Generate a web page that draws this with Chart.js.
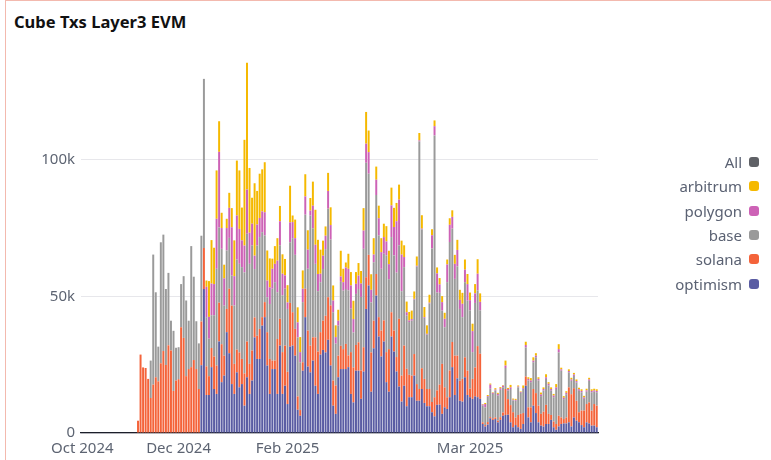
<!DOCTYPE html>
<html>
<head>
<meta charset="utf-8">
<script src="https://cdn.jsdelivr.net/npm/chart.js@4.4.1/dist/chart.umd.min.js"></script>
<style>
  body { margin: 0; background: #fff; font-family: "Noto Sans", sans-serif; }
  #wrap { position: relative; width: 771px; height: 460px; overflow: hidden; }
  #frame { position: absolute; left: 5px; top: 0; width: 800px; height: 500px; border-left: 1px solid #f3b9ae; border-top: 1px solid #f3b9ae; }
  h2 { position: absolute; left: 14px; top: 11px; margin: 0; font-size: 16.5px; line-height: 22px; font-weight: 700; color: #111; }
  canvas { position: absolute; left: 0; top: 0; }
  #legend { position: absolute; right: 12px; top: 150px; }
  .item { display: flex; justify-content: flex-end; align-items: center; height: 24.3px; font-size: 15px; color: #5b6273; }
  .dot { width: 10px; height: 10px; border-radius: 3px; margin-left: 7px; }
</style>
</head>
<body>
<div id="wrap">
  <div id="frame"></div>
  <h2>Cube Txs Layer3 EVM</h2>
  <canvas id="c" width="771" height="460"></canvas>
  <div id="legend"></div>
</div>
<script>
// one category per day, values in thousands of txs
const days = Array.from({ length: 204 }, (_, i) => i);
const tickPos = [0, 38, 81, 153];
const tickText = ['Oct 2024', 'Dec 2024', 'Feb 2025', 'Mar 2025'];

const optimism = [
  0,0,0,0,0,0,0,0,0,0, 0,0,0,0,0,0,0,0,0,0, 0,0,
  0,0,0,0,0,0,0,0,0,0, 0,0,0,0,0,0,0,0,0,0, 0,0,0,0,0,
  24.8,52.7,13.9,13.9,24.1,
  16.1,14.3,33.5,18.6,21.0,36.9,29.2,17.9,14.3,22.2,
  16.7,17.9,10.0,20.4,14.3,19.2,35.0,27.1,27.1,39.3,
  42.4,24.7,14.3,23.4,23.4,14.3,32.0,14.3,17.3,10.6,
  31.6,32.0,28.3,8.5,6.3,22.8,42.4,24.3,22.2,26.5,
  17.3,14.3,28.7,30.4,29.5,34.1,24.7,10.0,7.0,20.4,
  23.4,23.4,23.4,24.1,14.3,11.2,22.8,22.8,12.5,22.5,
  45.4,54.0,15.1,31.0,50.3,35.3,28.0,33.5,18.6,15.1,
  35.3,29.8,22.5,17.0,11.5,17.3,9.8,13.1,13.1,21.0,
  11.8,11.8,16.1,11.0,9.8,9.8,7.6,6.1,10.3,10.4,
  7.0,9.4,8.8,13.1,24.1,13.9,20.0,11.8,11.5,20.4,
  13.9,13.1,12.5,13.4,13.1,12.5,3.3,2.4,3.1,5.4,
  4.8,5.1,3.9,4.8,6.3,6.6,6.7,3.9,2.1,2.9,
  2.1,1.5,3.3,17.3,5.7,3.9,10.0,7.3,3.9,2.7,
  2.4,3.3,3.3,4.8,2.1,1.2,2.4,3.3,3.5,3.5,
  3.9,2.4,5.7,4.5,3.9,2.9,2.1,3.9,3.5,2.7,
  2.7,2.1
];

const solana = [
  0,0,0,0,0,0,0,0,0,0, 0,0,0,0,0,0,0,0,0,0, 0,0,
  4.5,28.7,24.0,23.8,19.8,12.8,17.7,20.4,18.9,25.5,
  30.0,24.9,32.1,30.2,15.4,19.2,19.7,38.7,34.8,20.8,
  23.4,24.1,26.7,23.4,16.1,16.0,15.0,10.5,6.9,7.0,
  11.9,10.4,14.2,13.9,7.3,8.5,23.6,28.7,11.0,8.3,
  12.8,9.2,11.8,13.1,11.0,11.0,7.3,8.5,11.0,3.1,
  5.5,12.2,12.8,3.1,3.1,20.1,9.8,15.3,14.7,11.8,
  16.0,12.2,9.8,4.9,2.1,3.1,10.4,13.2,9.8,8.5,
  17.7,15.5,8.2,10.7,13.4,15.6,22.0,9.2,10.4,7.9,
  8.5,7.3,9.2,4.3,15.3,12.8,9.4,10.4,10.4,8.9,
  11.6,11.2,14.4,10.1,7.9,7.1,9.5,7.7,11.0,15.6,
  8.9,7.7,5.3,24.8,9.5,14.7,13.7,8.2,7.9,7.9,
  6.1,4.3,7.6,8.8,6.3,6.3,3.7,7.0,5.3,7.3,
  18.3,7.3,4.3,9.8,9.2,14.4,8.3,7.3,8.3,7.3,
  8.9,3.1,7.3,10.6,18.7,16.5,0.6,0.5,0.9,0.4,
  0.6,0.6,0.6,1.0,1.2,9.5,5.7,6.3,5.5,2.8,
  4.5,5.5,4.0,3.4,3.7,5.5,6.1,7.3,6.1,4.3,
  5.4,7.0,3.7,1.8,2.1,2.1,3.9,2.4,1.6,2.2,
  12.8,11.8,10.7,7.3,3.7,5.3,6.1,6.7,7.7,5.5,
  7.9,7.9
];

const base = [
  0,0,0,0,0,0,0,0,0,0, 0,0,0,0,0,0,0,0,0,0, 0,0,
  0,0,0,0,0,13.7,47.6,31.1,12.7,44.3,
  42.6,27.8,26.5,10.9,22.0,12.0,11.7,15.8,22.6,27.7,
  17.7,44.3,30.5,17.5,16.7,31.4,61.9,18.0,13.7,12.0,
  15.1,35.4,27.5,34.9,18.3,21.4,18.6,11.0,21.4,33.0,
  32.4,33.6,37.0,39.4,36.6,38.5,17.7,33.0,33.6,31.1,
  24.4,12.8,20.1,26.3,28.7,17.1,26.9,20.8,20.8,23.0,
  22.2,27.1,27.1,21.6,17.5,22.0,27.1,22.6,47.6,39.9,
  26.9,22.1,18.3,18.9,24.4,32.4,24.1,25.0,15.3,11.0,
  23.4,21.4,20.1,23.8,15.9,12.8,18.7,19.5,26.9,36.0,
  41.9,29.7,18.3,21.4,28.9,29.9,22.6,24.4,35.4,25.6,
  27.5,27.5,30.9,26.9,30.9,28.7,19.5,19.3,20.1,19.9,
  43.0,90.6,50.8,22.3,19.9,31.3,56.2,95.8,35.8,33.6,
  19.5,22.0,42.1,47.0,41.5,28.1,32.7,26.3,22.6,27.5,
  25.6,28.7,9.8,23.6,20.4,15.9,6.1,6.5,9.2,10.4,
  8.9,9.8,9.2,10.0,9.2,7.7,3.1,5.9,4.3,6.1,
  10.1,7.7,8.8,10.6,9.8,9.2,9.8,13.1,9.2,6.5,
  7.7,9.5,10.4,8.9,8.9,12.8,23.2,17.1,7.3,8.5,
  5.5,4.9,4.5,6.7,7.9,6.7,4.3,4.5,7.9,6.7,
  4.5,4.9
];

const polygon = [
  0,0,0,0,0,0,0,0,0,0, 0,0,0,0,0,0,0,0,0,0, 0,0,
  0,0,0,0,0,0,0,0,0,0, 0,0,0,0,0,0,0,0,0,0, 0,0,0,0,0,0,0,
  11.1,8.0,11.6,
  11.4,18.3,27.7,7.6,10.0,8.2,11.0,17.7,10.7,16.1,
  12.8,9.8,9.8,16.2,11.4,7.9,4.9,7.7,7.0,7.6,
  8.5,6.1,6.1,7.3,6.7,11.6,8.8,7.9,4.9,2.4,
  7.3,5.9,6.1,5.5,3.7,4.9,6.7,7.0,1.8,8.3,
  7.0,6.3,3.1,4.9,4.9,6.5,5.3,4.3,2.4,1.8,
  2.0,3.1,7.9,7.9,8.5,4.9,3.7,4.9,4.9,6.7,
  7.0,7.9,4.6,2.8,5.6,6.3,6.1,6.1,5.1,5.5,
  11.6,10.4,18.8,16.7,13.4,3.7,1.2,0.6,0.6,0.3,
  0.3,0.4,0.3,0.3,0.3,0.3,4.9,3.4,7.0,3.1,
  3.1,3.1,6.5,6.3,4.3,5.5,6.0,3.3,4.9,4.6,
  6.1,3.7,7.7,3.5,6.1,3.1,0.4,1.2,0.3,1.5,
  0.4,0.4,0.6,0.6,0.6,0.9,0.6,0.6,0.3,0.3,
  0.3,0.3,0.3,0.9,0.6,0.6,0.6,0.6,0.6,0.6,
  0.6,0.6,0.6,0.6,0.6,0.6,1.2,0.5,0.5,0.5,
  0.5,0.5,0.5,0.5,0.5,0.5,0.5,0.5,0.5,0.5,
  0.5,0.5
];

const arbitrum = [
  0,0,0,0,0,0,0,0,0,0, 0,0,0,0,0,0,0,0,0,0, 0,0,
  0,0,0,0,0,0,0,0,0,0, 0,0,0,0,0,0,0,0,0,0, 0,0,0,0,0,0,0,
  2.3,13.1,15.9,
  13.3,17.7,11.2,5.6,5.0,3.4,5.5,7.0,13.1,20.1,
  21.4,12.0,38.7,46.4,23.7,9.5,26.5,12.3,16.2,15.4,
  18.3,11.0,10.6,3.7,6.5,8.2,5.6,7.1,6.0,6.3,
  13.4,2.4,6.8,5.5,5.5,6.7,8.1,7.1,4.6,8.8,
  12.8,12.5,8.8,5.5,3.4,6.6,6.5,5.5,4.3,4.0,
  9.4,4.9,1.8,5.5,4.9,6.7,4.3,4.6,4.6,8.2,
  11.6,7.9,5.7,6.0,4.8,4.6,5.1,4.9,5.6,4.9,
  6.5,7.0,6.7,5.5,5.1,4.3,3.9,3.1,3.1,2.7,
  3.4,2.7,4.9,3.7,3.1,2.9,2.2,2.1,2.2,2.3,
  2.2,2.2,1.8,2.4,2.4,3.3,3.7,3.7,4.0,3.7,
  3.7,2.8,2.7,3.4,5.3,3.1,0.2,0.4,0.4,0.4,
  0.2,0.5,0.4,0.4,0.2,1.8,0.4,0.9,0.4,0.4,
  0.4,0.2,1.0,1.2,0.6,0.9,1.2,0.9,0.6,0.7,
  0.6,1.1,0.6,0.6,0.6,1.2,1.8,0.6,0.6,0.6,
  0.6,0.6,0.6,0.6,0.6,0.6,0.6,0.6,0.6,0.6,
  0.6,0.6
];

const all = [];

const font = '"Noto Sans", sans-serif';
const textColor = '#5d6472';

// bottom of the stack first
const series = [
  { label: 'optimism', data: optimism, color: '#5a5ca3' },
  { label: 'solana', data: solana, color: '#f4633a' },
  { label: 'base', data: base, color: '#9a9a9a' },
  { label: 'polygon', data: polygon, color: '#cd62b6' },
  { label: 'arbitrum', data: arbitrum, color: '#f5b900' },
  { label: 'All', data: all, color: '#5f6166' }
];

const chart = new Chart(document.getElementById('c'), {
  type: 'bar',
  data: {
    labels: days,
    datasets: series.map(s => ({
      label: s.label,
      data: s.data,
      backgroundColor: s.color,
      borderWidth: 0,
      barPercentage: 0.78,
      categoryPercentage: 1.0
    }))
  },
  options: {
    responsive: false,
    animation: false,
    layout: { padding: { top: 45, right: 173, bottom: 0, left: 0 } },
    plugins: {
      legend: { display: false },
      tooltip: { enabled: false }
    },
    scales: {
      x: {
        stacked: true,
        grid: { display: false, drawTicks: false },
        border: { color: '#1c1f2a', width: 1.2 },
        ticks: {
          autoSkip: false,
          maxRotation: 0,
          padding: 7,
          color: textColor,
          font: { size: 15, family: font },
          callback: (v, i) => {
            const k = tickPos.indexOf(i);
            return k >= 0 ? tickText[k] : '';
          }
        },
        afterFit: s => { s.height = 27; }
      },
      y: {
        stacked: true,
        min: 0,
        max: 142,
        grid: { color: '#e7e7eb', drawTicks: false },
        border: { display: false },
        ticks: {
          stepSize: 50,
          padding: 6,
          color: textColor,
          font: { size: 15, family: font },
          callback: v => v === 0 ? '0' : v + 'k'
        },
        afterBuildTicks: s => { s.ticks = s.ticks.filter(t => t.value % 50 === 0); },
        afterFit: s => { s.width = 81; }
      }
    }
  }
});

// legend on the right, top item = top of the stack
const legend = document.getElementById('legend');
series.slice().reverse().forEach(s => {
  const row = document.createElement('div');
  row.className = 'item';
  row.innerHTML = '<span>' + s.label + '</span><span class="dot" style="background:' + s.color + '"></span>';
  legend.appendChild(row);
});
</script>
</body>
</html>
